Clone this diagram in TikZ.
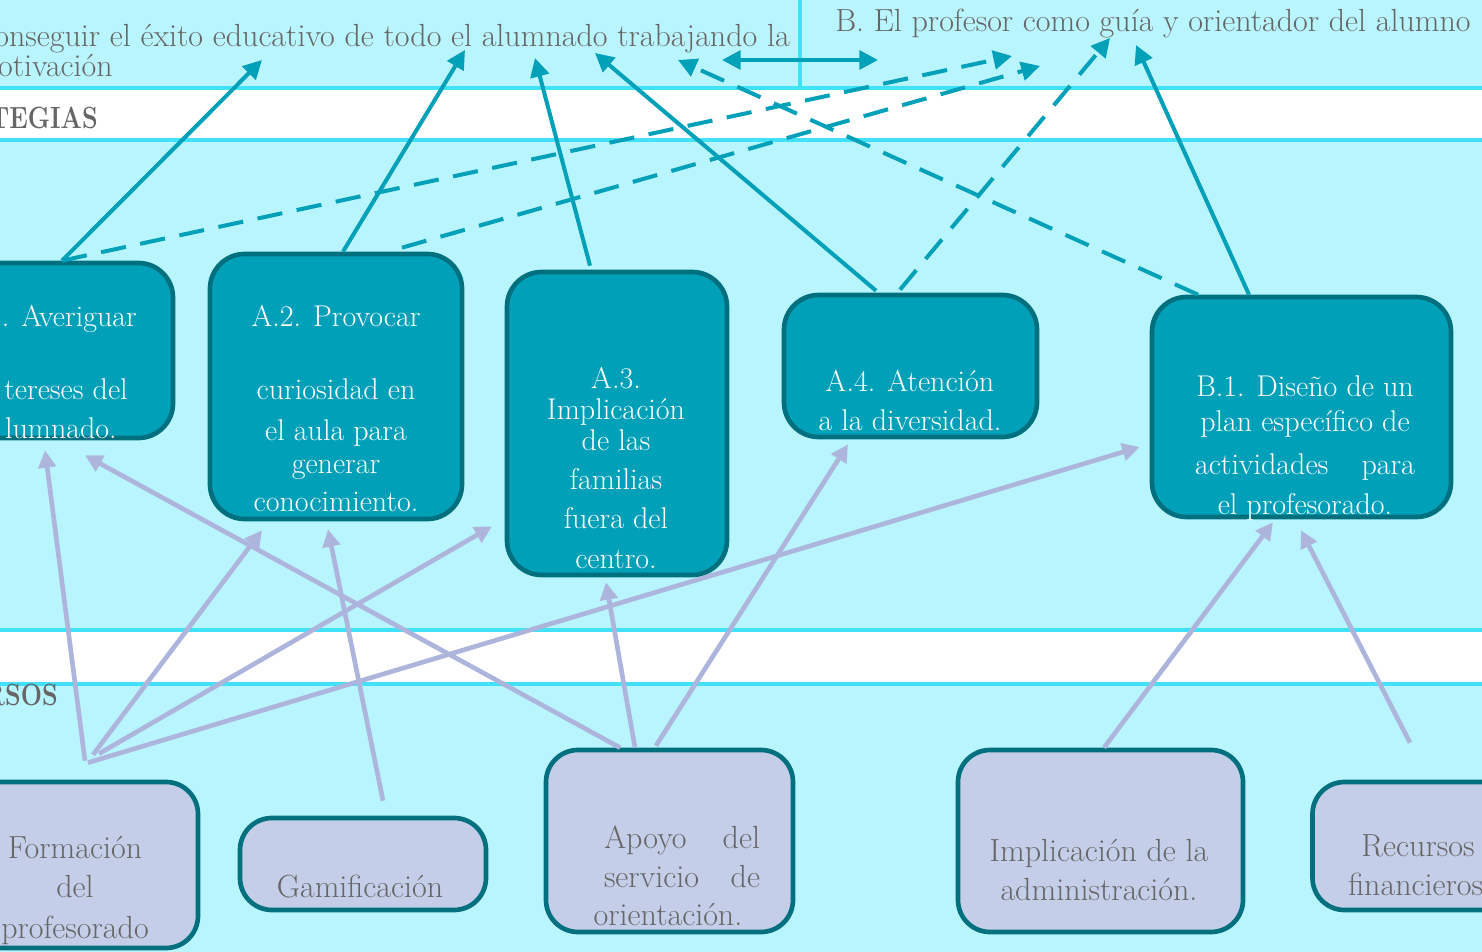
\documentclass[tikz,border=0pt]{standalone}
\usetikzlibrary{arrows.meta,calc}
\definecolor{bgc}{HTML}{B9F5FE}
\definecolor{bandc}{HTML}{41E2F8}
\definecolor{tealf}{HTML}{00A0B8}
\definecolor{teald}{HTML}{00707F}
\definecolor{lavf}{HTML}{C5CEE8}
\definecolor{lavl}{HTML}{AEB5DD}
\definecolor{grayt}{HTML}{666666}
\definecolor{arrt}{HTML}{00A0B8}
\begin{document}
\begin{tikzpicture}[x=0.75pt,y=-0.75pt,
 sbox/.style={draw=teald, fill=tealf, line width=3.5pt, rounded corners=26pt, inner sep=0pt},
 rbox/.style={draw=teald, fill=lavf, line width=3.5pt, rounded corners=24pt, inner sep=0pt},
 sz/.style 2 args={minimum width=#1*0.75pt, minimum height=#2*0.75pt},
 wtxt/.style={text=white, font=\fontsize{22.5}{27}\selectfont, anchor=mid, inner sep=0pt, yshift=-4.5pt},
 gtxt/.style={text=grayt, font=\fontsize{24}{28}\selectfont, anchor=mid, inner sep=0pt, yshift=-4.5pt},
 btxt/.style={text=grayt, font=\bfseries\fontsize{23}{27}\selectfont, anchor=mid east, inner sep=0pt, yshift=-4.5pt},
 tline/.style={draw=arrt, line width=3pt, -{Triangle[length=14pt,width=14pt]}},
 dline/.style={tline, dash pattern=on 19pt off 11pt},
 dbl/.style={draw=arrt, line width=3pt, {Triangle[length=14pt,width=14pt]}-{Triangle[length=14pt,width=14pt]}},
 lline/.style={draw=lavl, line width=3.5pt, -{Triangle[length=13pt,width=13pt]}},
 band/.style={draw=bandc, line width=2.5pt}
]
\useasboundingbox (0,0) rectangle (1482,952);
\clip (0,0) rectangle (1482,952);
% background and bands
\fill[bgc] (0,0) rectangle (1482,952);
\fill[white] (0,88) rectangle (1482,140);
\fill[white] (0,630) rectangle (1482,684);
\draw[band] (0,88) -- (1482,88);
\draw[band] (0,140) -- (1482,140);
\draw[band] (0,630) -- (1482,630);
\draw[band] (0,684) -- (1482,684);
\draw[band] (800,0) -- (800,88);

% headers
\node[gtxt, anchor=mid east] (hA1) at (790,38) {onseguir el éxito educativo de todo el alumnado trabajando la};
\node[gtxt, anchor=mid east] (hA2) at (113,68) {otivación};
\node[gtxt, anchor=mid west] (hB) at (835,23) {B. El profesor como guía y orientador del alumno};
\node[btxt] (hS) at (98,120) {\scalebox{0.82}[1]{TEGIAS}};
\node[btxt] (hR) at (58,697) {\scalebox{0.82}[1]{RSOS}};

% strategy boxes
\node[sbox, sz={252}{175}] (a1) at (47,350.5) {};
\node[sbox, sz={252}{265}] (a2) at (336,386.5) {};
\node[sbox, sz={220}{303}] (a3) at (617,423.5) {};
\node[sbox, sz={253}{142}] (a4) at (910.5,366) {};
\node[sbox, sz={299}{220}] (b1) at (1301.5,407) {};

% resource boxes
\node[rbox, sz={248}{166}] (r1) at (74,865) {};
\node[rbox, sz={246}{92}] (r2) at (363,864) {};
\node[rbox, sz={247}{182}] (r3) at (669.5,841) {};
\node[rbox, sz={285}{182}] (r4) at (1100.5,841) {};
\node[rbox, sz={217}{128}] (r5) at (1421,846) {};

% strategy texts
\node[wtxt, anchor=mid east] (a1t1) at (137,318) {. Averiguar};
\node[wtxt, anchor=mid east] (a1t2) at (128,391) {tereses del};
\node[wtxt, anchor=mid east] (a1t3) at (117,430) {lumnado.};
\foreach \yy/\t [count=\i] in {318/A.2. Provocar, 391/curiosidad en, 432/el aula para, 465/generar, 503/conocimiento.}
  \node[wtxt] (a2t\i) at (336,\yy) {\t};
\foreach \yy/\t [count=\i] in {380/A.3., 411/Implicación, 442/de las, 481/familias, 520/fuera del, 560/centro.}
  \node[wtxt] (a3t\i) at (616,\yy) {\t};
\foreach \yy/\t [count=\i] in {383/A.4. Atención, 422/a la diversidad.}
  \node[wtxt] (a4t\i) at (910,\yy) {\t};
\foreach \yy/\t [count=\i] in {388/B.1. Diseño de un, 423/plan específico de, 466/{\makebox[165pt][s]{actividades\hfill para}}, 506/el profesorado.}
  \node[wtxt] (b1t\i) at (1305,\yy) {\t};

% resource texts
\foreach \yy/\t [count=\i] in {850/Formación, 889/del, 930/profesorado}
  \node[gtxt] (r1t\i) at (75,\yy) {\t};
\node[gtxt] (r2t1) at (360,889) {Gamificación};
\node[gtxt] (r3t1) at (682,840) {\makebox[117pt][s]{Apoyo\hfill del}};
\node[gtxt] (r3t2) at (682,879) {\makebox[117pt][s]{servicio\hfill de}};
\node[gtxt] (r3t3) at (668,917) {orientación.};
\foreach \yy/\t [count=\i] in {853/Implicación de la, 892/administración.}
  \node[gtxt] (r4t\i) at (1099,\yy) {\t};
\node[gtxt] (r5t1) at (1418,848) {Recursos};
\node[gtxt, anchor=mid west] (r5t2) at (1348,887) {financieros};

% free ends at headers
\coordinate (tA1) at (262,60);
\coordinate (tA2) at (465,50);
\coordinate (tA3) at (535,58);
\coordinate (tA4) at (595,53);
\coordinate (tA5) at (678,60);
\coordinate (tB1) at (1136,45);
\coordinate (tB2) at (1012,56);
\coordinate (tB3) at (1040,66);
\coordinate (tB4) at (1110,38);
\coordinate (dA) at (722,60);
\coordinate (dB) at (878,60);

% teal connectors
\draw[tline] ($(a1.north)+(15,0)$) -- (tA1);
\draw[tline] ($(a2.north)+(7,0)$) -- (tA2);
\draw[tline] ($(a3.north)+(-27,-4)$) -- (tA3);
\draw[tline] ($(a4.north)+(-34.5,-2)$) -- (tA4);
\draw[tline] ($(b1.north)+(-52.5,0)$) -- (tB1);
\draw[dline] ($(a1.north)+(15,0)$) -- (tB2);
\draw[dline] ($(a2.north)+(66,-4)$) -- (tB3);
\draw[dline] ($(a4.north)+(-10.5,-3)$) -- (tB4);
\draw[dline] ($(b1.north)+(-103.5,0)$) -- (tA5);
\draw[dbl] (dA) -- (dB);

% lavender connectors
\draw[lline] ($(r1.north)+(11,-19)$) -- ($(a1.south)+(-2,10)$);
\draw[lline] ($(r1.north)+(19,-25)$) -- ($(a2.south)+(-74,9)$);
\draw[lline] ($(r1.north)+(25,-26)$) -- ($(a3.south)+(-125,-51)$);
\draw[lline] ($(r1.north)+(14,-17)$) -- ($(b1.west)+(-10,40)$);
\draw[lline] ($(r2.north)+(20,-15)$) -- ($(a2.south)+(-8,8)$);
\draw[lline] ($(r3.north)+(-49.5,0)$) -- ($(a1.south)+(38,15)$);
\draw[lline] ($(r3.north)+(-34.5,0)$) -- ($(a3.south)+(-11,5)$);
\draw[lline] ($(r3.north)+(-13.5,-2)$) -- ($(a4.south)+(-62.5,5)$);
\draw[lline] ($(r4.north)+(3.5,0)$) -- ($(b1.south)+(-28.5,3)$);
\draw[lline] ($(r5.north)+(-11,-37)$) -- ($(b1.south)+(-0.5,11)$);
\end{tikzpicture}
\end{document}
